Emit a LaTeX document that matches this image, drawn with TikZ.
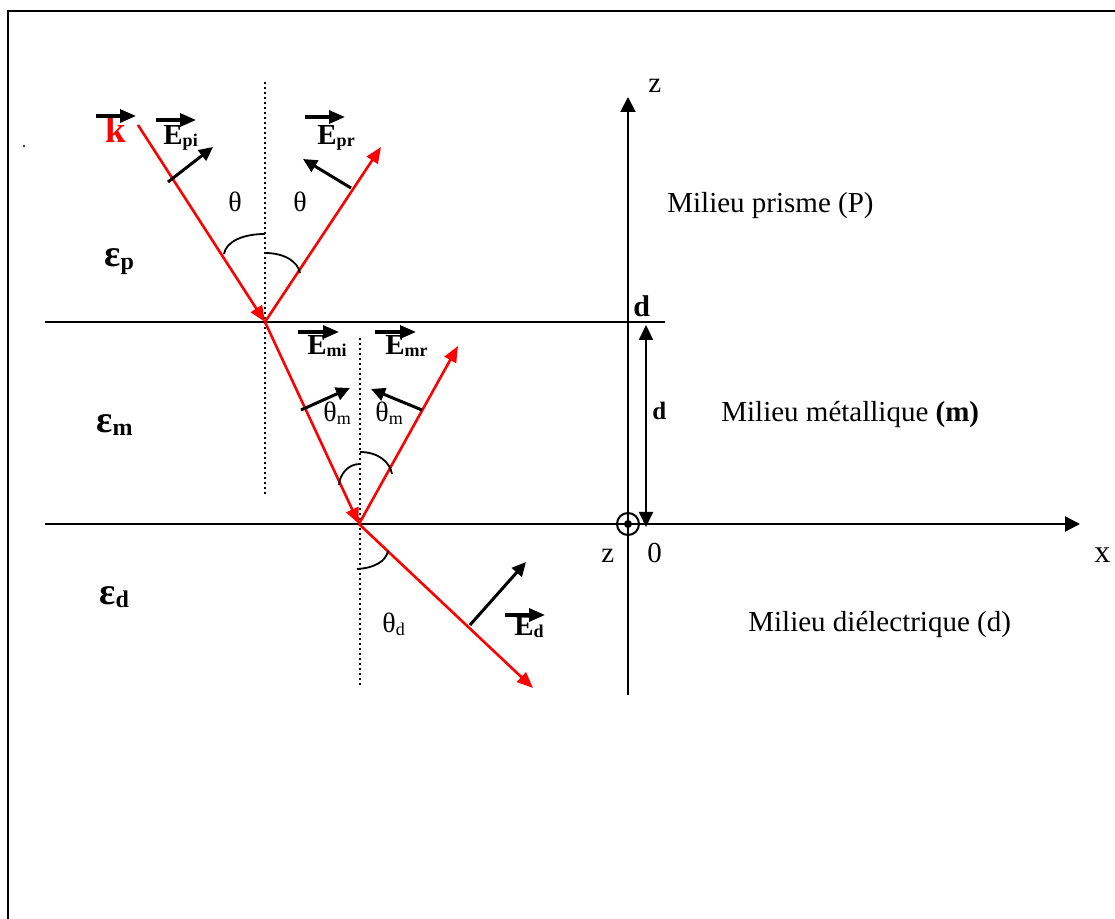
\documentclass[tikz,border=0pt]{standalone}
\usepackage{fontspec}
\setmainfont{Liberation Serif}
\usetikzlibrary{arrows.meta}
\newcommand{\epslab}[1]{{\bfseries\fontsize{19}{20}\selectfont ε\raisebox{-1.5pt}{\fontsize{12}{13}\selectfont #1}}}
\newcommand{\elab}[1]{{\bfseries\fontsize{14.5}{16}\selectfont E\raisebox{-1pt}{\fontsize{9}{10}\selectfont #1}}}
\newcommand{\thetasub}[1]{{\fontsize{14}{16}\selectfont θ\raisebox{-1.5pt}{\fontsize{9}{10}\selectfont #1}}}
\begin{document}
\begin{tikzpicture}[x=0.5pt,y=-0.5pt,
  axisline/.style={line width=1pt,-{Triangle[length=7.5pt,width=7.5pt]}},
  plainline/.style={line width=1pt},
  rayline/.style={red,line width=1.3pt,-{Triangle[length=8pt,width=6.5pt]}},
  fieldvec/.style={line width=1.5pt,-{Triangle[length=7pt,width=6.5pt]}},
  labvec/.style={line width=1.6pt,-{Triangle[length=8pt,width=6.5pt]}},
  normalline/.style={line width=1pt,dash pattern=on 1pt off 1.5pt},
  anglearc/.style={line width=0.9pt},
  lbl/.style={inner sep=0pt,anchor=base west,font=\fontsize{14.5}{17}\selectfont},
]
\useasboundingbox (0,0) rectangle (1115,919);
% frame (only top and left edges visible)
\coordinate (f1) at (8,919);
\coordinate (f2) at (8,11);
\coordinate (f3) at (1115,11);
\draw[line width=1.25pt] (f1) -- (f2) -- (f3);
\fill (24,146) circle (0.6pt);

% interfaces and axes
\coordinate (i1a) at (45,322);
\coordinate (i1b) at (665,322);
\draw[plainline] (i1a) -- (i1b);
\coordinate (i2a) at (45,524);
\coordinate (xtip) at (1080,524);
\draw[axisline,line width=1.2pt] (i2a) -- (xtip);
\coordinate (zbot) at (628,695);
\coordinate (ztip) at (628,97);
\draw[axisline] (zbot) -- (ztip);
\coordinate (O) at (628,524);
\draw[line width=1pt] (O) circle (5.5pt);
\fill (O) circle (2pt);
\coordinate (dtop) at (646,325);
\coordinate (dbot) at (646,527);
\draw[line width=1pt,{Triangle[length=7.5pt,width=7pt]}-{Triangle[length=7.5pt,width=7pt]}] (dtop) -- (dbot);

% axis labels
\node[lbl] (zlabtop) at (648,93) {z};
\node[lbl,font=\fontsize{16}{18}\selectfont] (xlab) at (1094,563) {x};
\node[lbl] (zlabbot) at (601,563) {z};
\node[lbl] (zero) at (647,563) {0};
\node[lbl,font=\fontsize{15}{17}\bfseries] (dlabtop) at (633,317) {d};
\node[lbl,font=\fontsize{12.5}{14}\bfseries] (dlabmid) at (652,420) {d};

% media labels
\node[lbl] (prisme) at (667,213) {Milieu prisme (P)};
\node[lbl] (metal) at (721,422) {Milieu métallique \textbf{(m)}};
\node[lbl] (diel) at (748,632) {Milieu diélectrique (d)};
\node[lbl] (ep) at (104,267) {\epslab{p}};
\node[lbl] (em) at (96,433) {\epslab{m}};
\node[lbl] (ed) at (99,605) {\epslab{d}};

% normals
\coordinate (n1a) at (265,82);
\coordinate (n1b) at (265,495);
\draw[normalline] (n1a) -- (n1b);
\coordinate (n2a) at (360,338);
\coordinate (n2b) at (360,688);
\draw[normalline] (n2a) -- (n2b);

% rays
\coordinate (A) at (265,322);
\coordinate (B) at (359,524);
\coordinate (kstart) at (138,125);
\coordinate (rp) at (381,147);
\coordinate (rm) at (458,346);
\coordinate (td) at (533,688);
\draw[rayline] (kstart) -- (A);
\draw[rayline] (A) -- (rp);
\draw[rayline] (A) -- (B);
\draw[rayline] (B) -- (rm);
\draw[rayline] (B) -- (td);

% field vectors
\coordinate (epi1) at (168,182); \coordinate (epi2) at (213,147);
\draw[fieldvec] (epi1) -- (epi2);
\coordinate (epr1) at (351,188); \coordinate (epr2) at (303,159);
\draw[fieldvec] (epr1) -- (epr2);
\coordinate (emi1) at (301,410); \coordinate (emi2) at (350,388);
\draw[fieldvec] (emi1) -- (emi2);
\coordinate (emr1) at (422,410); \coordinate (emr2) at (371,389);
\draw[fieldvec] (emr1) -- (emr2);
\coordinate (ed1) at (470,625); \coordinate (ed2) at (526,562);
\draw[fieldvec] (ed1) -- (ed2);

% vector labels
\node[lbl,text=red,font=\fontsize{18.5}{20}\bfseries] (klab) at (105,143) {k};
\draw[labvec] (96,116) -- (136,116);
\node[lbl] (Epi) at (163,145) {\elab{pi}};
\draw[labvec] (156,120) -- (196,120);
\node[lbl] (Epr) at (317,145) {\elab{pr}};
\draw[labvec] (305,117) -- (345,117);
\node[lbl] (Emi) at (307,355) {\elab{mi}};
\draw[labvec] (298,332) -- (339,332);
\node[lbl] (Emr) at (385,355) {\elab{mr}};
\draw[labvec] (375,332) -- (416,332);
\node[lbl] (Ed) at (514,636) {\elab{d}};
\draw[labvec] (505,615) -- (545,615);

% angle labels
\node[lbl] (th1) at (228,212) {\thetasub{}};
\node[lbl] (th2) at (293,212) {\thetasub{}};
\node[lbl] (thm1) at (323,422) {\thetasub{m}};
\node[lbl] (thm2) at (375,422) {\thetasub{m}};
\node[lbl] (thd) at (382,633) {\thetasub{d}};

% angle arcs
\draw[anglearc] (265,234) .. controls (242,234) and (226,242) .. (224,254);
\draw[anglearc] (265,253) .. controls (285,253) and (298,262) .. (300,273);
\draw[anglearc] (360,464) .. controls (348,464) and (340,474) .. (339,485);
\draw[anglearc] (360,452) .. controls (378,452) and (390,462) .. (392,474);
\draw[anglearc] (357,569) .. controls (375,568) and (386,561) .. (388,551);
\end{tikzpicture}
\end{document}
